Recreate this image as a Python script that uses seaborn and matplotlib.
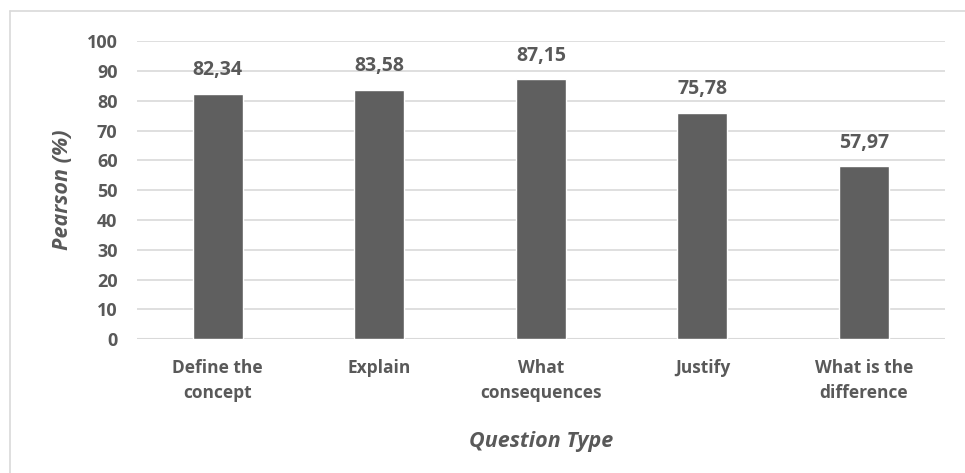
import matplotlib
matplotlib.use("Agg")
import matplotlib.pyplot as plt
import seaborn as sns
import pandas as pd
from matplotlib.lines import Line2D

categories = ["Define the\nconcept", "Explain", "What\nconsequences", "Justify", "What is the\ndifference"]
values = [82.34, 83.58, 87.15, 75.78, 57.97]
y_ticks = [0, 10, 20, 30, 40, 50, 60, 70, 80, 90, 100]

sns.set_theme(style="white")
plt.rcParams['font.family'] = ['Open Sans', 'DejaVu Sans']

TEXT = "#595959"
BAR = "#5f5f5f"

df = pd.DataFrame({"cat": categories, "val": values})

fig = plt.figure(figsize=(9.65, 4.73), dpi=100)
ax = fig.add_axes([0.142, 0.283, 0.837, 0.630])

sns.barplot(data=df, x="cat", y="val", color=BAR, width=0.31, ax=ax,
            saturation=1, zorder=3)

ax.set_ylim(0, 100)
ax.set_yticks(y_ticks)
ax.set_xlim(-0.5, len(categories) - 0.5)
ax.yaxis.grid(True, color="#d9d9d9", linewidth=1.2, zorder=0)
ax.xaxis.grid(False)
for s in ax.spines.values():
    s.set_visible(False)
ax.axhline(0, color="#d9d9d9", linewidth=1.5, zorder=2)

ax.tick_params(axis="y", length=0, pad=14, labelsize=13, labelcolor=TEXT)
ax.tick_params(axis="x", length=0, pad=14, labelsize=12.5, labelcolor=TEXT)
for lbl in ax.get_xticklabels() + ax.get_yticklabels():
    lbl.set_fontweight("bold")
for lbl in ax.get_xticklabels():
    lbl.set_linespacing(1.5)

for c in ax.containers:
    labels = [f"{v:.2f}".replace(".", ",") for v in c.datavalues]
    ax.bar_label(c, labels=labels, padding=10, fontsize=14, fontweight="bold", color=TEXT)

ax.set_xlabel("Question Type", fontsize=15.5, fontstyle="italic", fontweight="bold",
              color=TEXT, labelpad=21)
ax.set_ylabel("Pearson (%)", fontsize=15.5, fontstyle="italic", fontweight="bold",
              color=TEXT, labelpad=10)

# figure border (top and left visible)
fig.add_artist(Line2D([0.0104, 1.0], [0.977, 0.977], transform=fig.transFigure,
                      color="#d9d9d9", linewidth=1.2))
fig.add_artist(Line2D([0.0104, 0.0104], [0.0, 0.977], transform=fig.transFigure,
                      color="#d9d9d9", linewidth=1.2))

fig.savefig("out.png", dpi=100)
